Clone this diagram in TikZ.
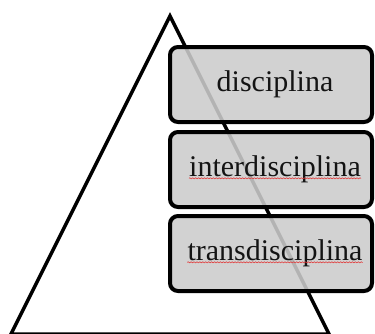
\documentclass[tikz,border=0pt]{standalone}
\usepackage{fontspec}
\setmainfont{Liberation Serif}
\usetikzlibrary{decorations.pathmorphing}
\definecolor{spellred}{RGB}{225,60,60}
\tikzset{
  side/.style={line width=2.6pt, line join=miter},
  levelbox/.style={draw=black, line width=3pt, rounded corners=6pt,
    fill=black!20, fill opacity=0.88, minimum width=151.5pt, minimum height=56.25pt, inner sep=0pt},
  lbl/.style={inner sep=0pt, font=\fontsize{22.5}{26}\selectfont, text=black!92},
  squiggle/.style={draw=spellred, line width=0.45pt,
    decorate, decoration={snake, amplitude=0.4pt, segment length=2.2pt}}
}
\begin{document}
\begin{tikzpicture}[x=0.75pt,y=-0.75pt]
\useasboundingbox (0,0) rectangle (375,333);
\coordinate (apex) at (170,16);
\coordinate (bl) at (11,334);
\coordinate (br) at (329,334);
\draw[side] (apex) -- (br) -- (bl) -- cycle;
\node[levelbox] (b1) at (271,84.5) {};
\node[levelbox] (b2) at (271,169.5) {};
\node[levelbox] (b3) at (271,253.5) {};
\node[lbl] (t1) at ([xshift=3pt]b1.center) {disciplina};
\node[lbl] (t2) at ([xshift=3pt]b2.center) {interdisciplina};
\node[lbl] (t3) at ([xshift=3pt]b3.center) {transdisciplina};
\draw[squiggle] ([yshift=-1.2pt]t2.base west) -- ([yshift=-1.2pt]t2.base east);
\draw[squiggle] ([yshift=-1.2pt]t3.base west) -- ([yshift=-1.2pt]t3.base east);
\end{tikzpicture}
\end{document}
